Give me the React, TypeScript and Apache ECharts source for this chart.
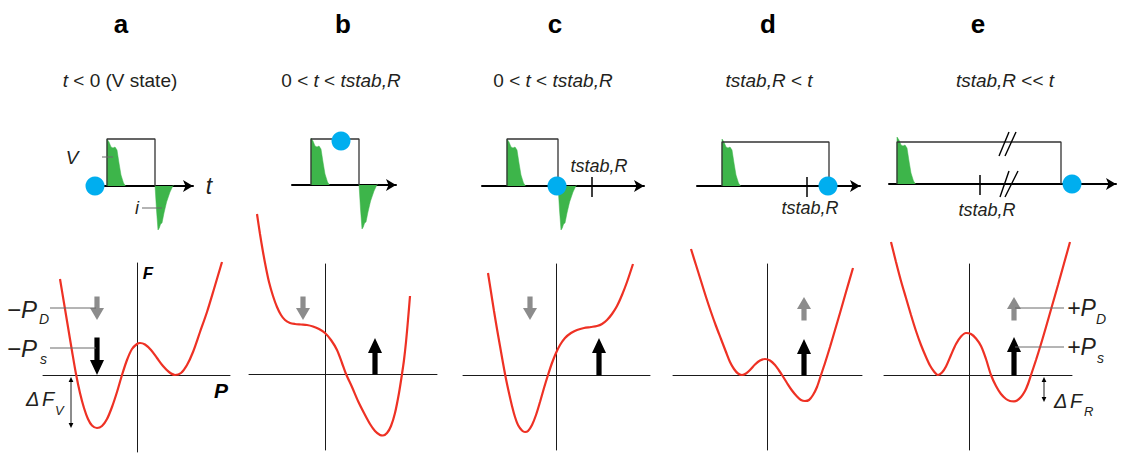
import React, { useEffect, useRef } from "react";
import * as echarts from "echarts";

// ---------- DATA (arbitrary units, origin at the axis crossing) ----------
const panelLetters = ["a", "b", "c", "d", "e"];
const panelConditions = [
  "{i|t}{n| < 0 (V state)}",
  "{n|0 < }{i|t}{n| < }{i|tstab,R}",
  "{n|0 < }{i|t}{n| < }{i|tstab,R}",
  "{i|tstab,R}{n| < }{i|t}",
  "{i|tstab,R}{n| << }{i|t}",
];

// Free energy F versus polarisation P for each stage
const freeEnergyA = [[-77, 96], [-73, 72], [-69, 48], [-65, 24], [-61, 1], [-57, -18], [-53, -33], [-49, -44], [-45, -50.5], [-40, -53], [-35, -51], [-30, -44], [-25, -32], [-20, -17], [-15, 0], [-10, 15], [-5, 26], [0, 31], [3, 32], [8, 30.5], [14, 25], [20, 17], [26, 9], [32, 3], [38, 0], [44, 2], [50, 10], [56, 23], [63, 43], [70, 63], [77, 86], [85, 113]];
const freeEnergyB = [[-68, 160], [-65, 140], [-62, 122], [-59, 106], [-56, 92], [-52, 78], [-48, 67], [-44, 59], [-40, 54], [-35, 51], [-30, 50], [-24, 49.5], [-18, 49], [-12, 47.5], [-6, 45], [0, 41], [6, 34], [12, 24], [17, 11], [21, 0], [27, -13], [33, -27], [39, -39], [45, -50], [50, -57], [55, -61], [58, -61.5], [62, -59], [66, -52], [70, -39], [74, -19], [77, 0], [79, 14], [81, 32], [83, 54], [85, 78]];
const freeEnergyC = [[-68, 102], [-65, 83], [-62, 64], [-59, 46], [-56, 29], [-53, 12], [-50, -4], [-47, -18], [-44, -31], [-41, -42], [-38, -50], [-34, -55.5], [-31, -57], [-28, -56], [-24, -50], [-20, -40], [-16, -27], [-12, -13], [-8, 0], [-4, 12], [0, 22], [4, 30], [9, 37], [15, 42], [21, 45], [28, 47], [35, 48], [41, 49], [46, 51], [51, 55], [56, 61], [61, 69], [66, 80], [71, 93], [77, 111]];
const freeEnergyD = [[-76, 126], [-71, 110], [-66, 94], [-61, 78], [-56, 63], [-51, 49], [-46, 36], [-41, 23], [-37, 13], [-33, 6], [-29, 1.5], [-25, 0], [-21, 1.5], [-17, 5], [-12, 10.5], [-7, 14.5], [-2, 16], [3, 14.5], [8, 10], [12, 4.5], [15, 0], [20, -8], [25, -15.5], [30, -21.5], [34, -25], [38, -26], [42, -25], [46, -20], [50, -12], [54, 0], [58, 12], [63, 28], [68, 45], [73, 62], [79, 83], [86, 107]];
const freeEnergyE = [[-78, 133], [-73, 113], [-68, 94], [-63, 77], [-58, 60], [-53, 44], [-48, 30], [-43, 18], [-39, 9.5], [-35, 3.5], [-31, 0], [-27, 2.5], [-23, 8.5], [-18, 20], [-13, 31], [-8, 38.5], [-3, 42], [2, 41], [7, 36.5], [12, 29], [17, 16], [22, 0], [27, -11], [32, -19], [37, -24], [41, -26], [45, -26.3], [48, -25.5], [52, -22], [56, -16], [59, -9], [62, 0], [67, 15], [72, 31], [77, 48], [83, 69], [89, 90], [95, 111.5], [101, 133]];
const freeEnergy = [freeEnergyA, freeEnergyB, freeEnergyC, freeEnergyD, freeEnergyE];

// Depolarisation (grey) and spontaneous polarisation (black) arrows: P position, F start, F tip
const depolP = [-40, -22, -26, 37, 45];
const depolFrom = [78, 77, 78, 55, 55];
const depolTo = [55, 54, 55, 78, 78];
const spontP = [-40, 50, 43, 37, 45];
const spontFrom = [37, 0, 0, 0, 0];
const spontTo = [0, 36, 37, 36, 38];

// ΔF markers: P position, F start, F end (panels a and e)
const deltaFV = [-66, -2, -53];
const deltaFR = [75, -2, -27];

// Pulse diagrams: write (V) current transient, read current transient
const writeCurrent = [[0, 0], [0, 47], [2, 44], [4, 39], [6, 38], [8, 39], [10, 36], [12, 23], [14, 11], [16.5, 3], [18.5, 0]];
const readCurrent = [[0, 1], [1.5, -24], [3, -44], [4.3, -42], [5.6, -38], [7, -37], [9, -27], [11.6, -16], [15, -6], [18.3, 1]];
const pulseWidth = [48, 48, 51, 107, 164];
const pulseHeight = [47, 46, 47, 44, 42];
const showRead = [true, true, true, false, false];
const stateT = [-12, 30, 50, 106, 175];
const stateV = [0, 44, 0, 0, 0];
const tstabT = [null, null, 85, 85, 83];

// ---------- STYLE / LAYOUT ----------
const W = 1126;
const H = 457;
const FONT = '"Liberation Sans", Arial, Helvetica, sans-serif';
const RED = "#EE3124";
const GREEN = "#3DB54A";
const BLUE = "#00AEEF";
const GREY = "#8C8C8C";
const LEADER = "#6a6a6a";
const INK = "#231F20";

const energyLayout = [
  { ox: 137, oy: 375, x: [-94, 93], y: [-77, 112] },
  { ox: 325, oy: 374, x: [-76, 112], y: [-76, 110] },
  { ox: 556, oy: 375, x: [-93, 94], y: [-75, 111] },
  { ox: 767, oy: 375, x: [-94, 95], y: [-75, 111] },
  { ox: 969, oy: 375, x: [-85, 103], y: [-75, 111] },
];
const pulseLayout = [
  { ox: 107, oy: 186, x: [-4, 86] },
  { ox: 311, oy: 185, x: [-19, 85] },
  { ox: 507, oy: 186, x: [-25, 137] },
  { ox: 722, oy: 186, x: [-25, 138] },
  { ox: 897, oy: 184, x: [-8, 219] },
];
const pulseY = [-50, 55];
const titleX = [121, 343, 555, 768, 978];
const condX = [120, 341, 553, 769, 1005];

const lineSeries = (grid: number, data: number[][], color: string, width: number, extra: any = {}) => ({
  type: "line",
  xAxisIndex: grid,
  yAxisIndex: grid,
  data,
  symbol: "none",
  showSymbol: false,
  clip: false,
  silent: true,
  lineStyle: { color, width },
  ...extra,
});

const arrowRender = (params: any, api: any) => {
  const colors = [GREY, "#000"];
  const p0 = api.coord([api.value(0), api.value(1)]);
  const p1 = api.coord([api.value(0), api.value(2)]);
  const kind = api.value(3);
  const headLen = kind === 0 ? 12 : 15;
  const headHalf = 7;
  const shaftHalf = 2.6;
  const dir = p1[1] > p0[1] ? 1 : -1;
  const baseY = p1[1] - dir * headLen;
  const x = p1[0];
  const color = colors[kind];
  return {
    type: "group",
    children: [
      { type: "rect", shape: { x: x - shaftHalf, y: Math.min(p0[1], baseY) - 0.5, width: shaftHalf * 2, height: Math.abs(baseY - p0[1]) + 1 }, style: { fill: color } },
      { type: "polygon", shape: { points: [[x, p1[1]], [x - headHalf, baseY], [x + headHalf, baseY]] }, style: { fill: color } },
    ],
  };
};

const dblArrowRender = (params: any, api: any) => {
  const p0 = api.coord([api.value(0), api.value(1)]);
  const p1 = api.coord([api.value(0), api.value(2)]);
  const x = p0[0];
  const hl = 5;
  const hw = 2.4;
  return {
    type: "group",
    children: [
      { type: "line", shape: { x1: x, y1: p0[1] + 2, x2: x, y2: p1[1] - 2 }, style: { stroke: "#000", lineWidth: 0.9 } },
      { type: "polygon", shape: { points: [[x, p0[1]], [x - hw, p0[1] + hl], [x + hw, p0[1] + hl]] }, style: { fill: "#000" } },
      { type: "polygon", shape: { points: [[x, p1[1]], [x - hw, p1[1] - hl], [x + hw, p1[1] - hl]] }, style: { fill: "#000" } },
    ],
  };
};

function buildOption() {
  const grid: any[] = [];
  const xAxis: any[] = [];
  const yAxis: any[] = [];
  const series: any[] = [];
  const hidden = { axisTick: { show: false }, axisLabel: { show: false }, splitLine: { show: false } };

  // energy panels: grids 0..4
  energyLayout.forEach((L, k) => {
    grid.push({ left: L.ox + L.x[0], top: L.oy - L.y[1], width: L.x[1] - L.x[0], height: L.y[1] - L.y[0] });
    xAxis.push({ gridIndex: k, type: "value", min: L.x[0], max: L.x[1], axisLine: { show: true, onZero: true, lineStyle: { color: "#1a1a1a", width: 1 } }, ...hidden });
    yAxis.push({ gridIndex: k, type: "value", min: L.y[0], max: L.y[1], axisLine: { show: true, onZero: true, lineStyle: { color: "#1a1a1a", width: 1 } }, ...hidden });
    series.push(lineSeries(k, freeEnergy[k], RED, 2.2, { smooth: 0.3, z: 5 }));
    series.push({
      type: "custom",
      xAxisIndex: k,
      yAxisIndex: k,
      silent: true,
      z: 6,
      renderItem: arrowRender,
      data: [
        [depolP[k], depolFrom[k], depolTo[k], 0],
        [spontP[k], spontFrom[k], spontTo[k], 1],
      ],
    });
  });
  // leader lines and ΔF markers
  series.push(lineSeries(0, [[-87, 67], [-41, 67]], LEADER, 1, { z: 7 }));
  series.push(lineSeries(0, [[-87, 27], [-41, 27]], LEADER, 1, { z: 7 }));
  series.push(lineSeries(4, [[46, 67], [95, 67]], LEADER, 1, { z: 7 }));
  series.push(lineSeries(4, [[46, 28], [95, 28]], LEADER, 1, { z: 7 }));
  series.push({ type: "custom", xAxisIndex: 0, yAxisIndex: 0, silent: true, renderItem: dblArrowRender, data: [deltaFV] });
  series.push({ type: "custom", xAxisIndex: 4, yAxisIndex: 4, silent: true, renderItem: dblArrowRender, data: [deltaFR] });

  // pulse panels: grids 5..9
  pulseLayout.forEach((L, k) => {
    const g = k + 5;
    grid.push({ left: L.ox + L.x[0], top: L.oy - pulseY[1], width: L.x[1] - L.x[0], height: pulseY[1] - pulseY[0] });
    xAxis.push({
      gridIndex: g, type: "value", min: L.x[0], max: L.x[1],
      axisLine: { show: true, onZero: true, symbol: ["none", "arrow"], symbolSize: [9, 10], lineStyle: { color: "#000", width: 2 } },
      ...hidden,
    });
    yAxis.push({ gridIndex: g, type: "value", min: pulseY[0], max: pulseY[1], axisLine: { show: false }, ...hidden });
    const w = pulseWidth[k];
    const h = pulseHeight[k];
    series.push(lineSeries(g, writeCurrent, GREEN, 0.5, { areaStyle: { color: GREEN, opacity: 1 }, z: 3 }));
    if (showRead[k]) {
      series.push(lineSeries(g, readCurrent.map((p) => [p[0] + w, p[1]]), GREEN, 0.5, { areaStyle: { color: GREEN, opacity: 1 }, z: 3 }));
    }
    series.push(lineSeries(g, [[0, 0], [0, h], [w, h], [w, 0]], "#333", 1.3, { z: 4 }));
    const tt = tstabT[k];
    if (tt !== null) {
      series.push(lineSeries(g, [[tt, 9], [tt, -11]], "#000", 1.5, { z: 4 }));
    }
    series.push({
      type: "scatter", xAxisIndex: g, yAxisIndex: g, silent: true, clip: false, z: 10,
      symbolSize: 19, itemStyle: { color: BLUE, opacity: 1 },
      data: [[stateT[k], stateV[k]]],
    });
  });
  // leaders in pulse panel a
  series.push(lineSeries(5, [[-22, 29], [6, 29]], LEADER, 1.2, { z: 6 }));
  series.push(lineSeries(5, [[35, -22], [55, -22]], LEADER, 1.2, { z: 6 }));
  // break marks in panel e
  [[[102, 28], [112, 52]], [[108, 28], [119, 52]], [[103, -13], [112, 13]], [[108, -13], [121, 13]]].forEach((seg) => {
    series.push(lineSeries(9, seg, "#000", 1.4, { z: 6 }));
  });

  const txt = (text: string, x: number, y: number, size: number, o: any = {}) => ({
    type: "text",
    x,
    y,
    silent: true,
    z: 20,
    style: {
      text,
      fontSize: size,
      fontFamily: FONT,
      fill: o.fill || INK,
      align: o.align || "center",
      verticalAlign: "middle",
      fontStyle: o.italic ? "italic" : "normal",
      fontWeight: o.bold ? "bold" : "normal",
      rich: o.rich,
    },
  });

  const graphic: any[] = [];
  panelLetters.forEach((l, k) => graphic.push(txt(l, titleX[k], 24, 26, { bold: true, fill: "#000" })));
  const richCond = {
    i: { fontSize: 19, fontFamily: FONT, fontStyle: "italic", fill: INK },
    n: { fontSize: 19, fontFamily: FONT, fill: INK },
  };
  panelConditions.forEach((c, k) => graphic.push(txt(c, condX[k], 80, 19, { rich: richCond })));

  // pulse labels
  graphic.push(txt("t", 209, 186, 23, { italic: true }));
  graphic.push(txt("V", 72, 157, 19, { italic: true }));
  graphic.push(txt("i", 137, 208, 18, { italic: true }));
  graphic.push(txt("tstab,R", 599, 166, 18, { italic: true }));
  graphic.push(txt("tstab,R", 810, 208, 18, { italic: true }));
  graphic.push(txt("tstab,R", 987, 210, 18, { italic: true }));

  // energy labels panel a
  graphic.push(txt("\u2212P", 7, 309, 24, { italic: true, align: "left" }));
  graphic.push(txt("D", 39, 319, 14, { italic: true, align: "left" }));
  graphic.push(txt("\u2212P", 7, 348, 24, { italic: true, align: "left" }));
  graphic.push(txt("s", 40, 359, 14, { italic: true, align: "left" }));
  graphic.push(txt("\u0394", 26, 399, 20, { italic: true, align: "left" }));
  graphic.push(txt("F", 42, 399, 20, { italic: true, align: "left" }));
  graphic.push(txt("V", 55, 410, 13, { italic: true, align: "left" }));
  graphic.push(txt("F", 148, 273, 17, { italic: true, bold: true, fill: "#000" }));
  graphic.push(txt("P", 221, 390, 21, { italic: true, bold: true, fill: "#000" }));
  // energy labels panel e
  graphic.push(txt("+P", 1067, 308, 23, { italic: true, align: "left" }));
  graphic.push(txt("D", 1096, 319, 14, { italic: true, align: "left" }));
  graphic.push(txt("+P", 1067, 347, 23, { italic: true, align: "left" }));
  graphic.push(txt("s", 1097, 358, 14, { italic: true, align: "left" }));
  graphic.push(txt("\u0394", 1054, 401, 20, { italic: true, align: "left" }));
  graphic.push(txt("F", 1070, 401, 20, { italic: true, align: "left" }));
  graphic.push(txt("R", 1084, 411, 13, { italic: true, align: "left" }));

  return { animation: false, backgroundColor: "#fff", grid, xAxis, yAxis, series, graphic };
}

export default function App() {
  const ref = useRef<HTMLDivElement>(null);
  useEffect(() => {
    if (!ref.current) return;
    const chart = echarts.init(ref.current, null, { renderer: "svg", width: W, height: H });
    chart.setOption(buildOption() as any);
    return () => chart.dispose();
  }, []);
  return <div ref={ref} style={{ position: "fixed", left: 0, top: 0, width: W, height: H, background: "#fff" }} />;
}
